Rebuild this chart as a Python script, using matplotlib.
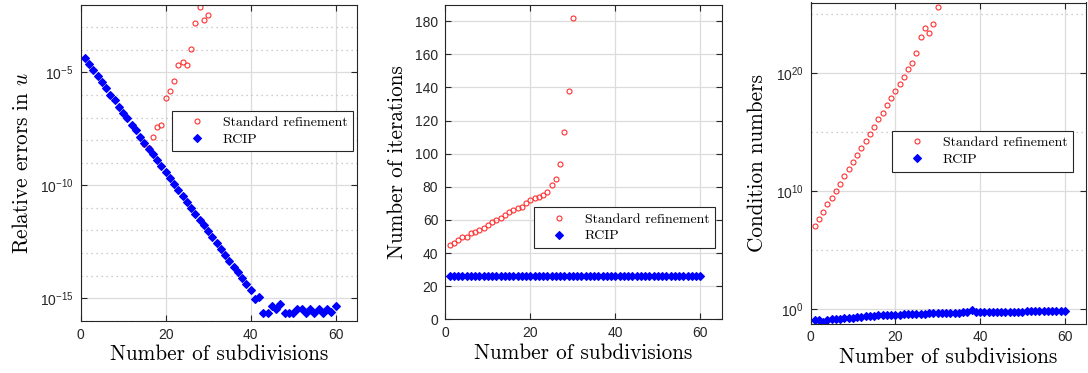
import numpy as np
import matplotlib
matplotlib.use('Agg')
import matplotlib.pyplot as plt
from matplotlib.ticker import FixedLocator, LogFormatterMathtext, NullFormatter

plt.rcParams['font.family'] = ['Liberation Sans', 'DejaVu Sans']
plt.rcParams['mathtext.fontset'] = 'cm'

# subdivisions
n_rcip = np.arange(1, 61)
n_std = np.arange(1, 31)

# relative errors in u (log10)
err_rcip_log = [-4.36, -4.61, -4.89, -5.18, -5.44, -5.71, -5.99, -6.24, -6.52, -6.79,
                -7.04, -7.31, -7.56, -7.84, -8.11, -8.39, -8.62, -8.89, -9.14, -9.42,
                -9.69, -9.95, -10.21, -10.46, -10.74, -10.99, -11.26, -11.52, -11.77, -12.04,
                -12.31, -12.56, -12.81, -13.09, -13.36, -13.61, -13.86, -14.13, -14.38, -14.66,
                -15.03, -14.94, -15.65, -15.65, -15.34, -15.50, -15.28, -15.65, -15.65, -15.65,
                -15.46, -15.46, -15.65, -15.46, -15.65, -15.49, -15.65, -15.46, -15.63, -15.34]
err_std_log = [-4.36, -4.61, -4.89, -5.18, -5.44, -5.71, -5.99, -6.24, -6.52, -6.79,
               -7.04, -7.31, -7.56, -7.84, -8.17, -8.35, -7.84, -7.40, -7.34, -6.14,
               -5.84, -5.38, -4.69, -4.56, -4.69, -3.95, -2.80, -2.09, -2.67, -2.45]

# number of iterations
it_std = [45, 46, 48, 50, 50, 52, 53, 54, 55, 57, 59, 60, 61, 63, 65, 66, 67, 68, 70, 72,
          73, 74, 75, 77, 81, 85, 94, 113, 138, 182]
it_rcip = [26] * 60

# condition numbers (log10)
cond_std_log = [7.02, 7.64, 8.24, 8.86, 9.43, 10.02, 10.61, 11.24, 11.86, 12.45,
                13.05, 13.67, 14.27, 14.86, 15.45, 16.08, 16.64, 17.27, 17.86, 18.48,
                19.08, 19.70, 20.32, 20.89, 21.74, 23.07, 23.86, 23.41, 24.20, 25.62]
cond_rcip_log = [-0.93, -0.99, -1.16, -0.96, -0.91, -0.88, -0.85, -0.82, -0.79, -0.76,
                 -0.74, -0.68, -0.62, -0.59, -0.59, -0.57, -0.57, -0.56, -0.54, -0.53,
                 -0.51, -0.48, -0.45, -0.45, -0.45, -0.43, -0.42, -0.40, -0.39, -0.37,
                 -0.36, -0.35, -0.34, -0.33, -0.32, -0.31, -0.31, -0.14, -0.31, -0.30,
                 -0.30, -0.29, -0.28, -0.28, -0.27, -0.26, -0.26, -0.25, -0.24, -0.24,
                 -0.23, -0.22, -0.22, -0.21, -0.21, -0.20, -0.19, -0.19, -0.18, -0.17]

AX_COL = '#262626'
GRID_COL = '#dcdcdc'
LBL_FONT = 'cmr10'

fig = plt.figure(figsize=(10.88, 3.73), dpi=100)
W, H = 1088, 373


def make_ax(l, r, t, b):
    return fig.add_axes([l / W, (H - b) / H, (r - l) / W, (b - t) / H])


def style(ax):
    for s in ax.spines.values():
        s.set_color(AX_COL)
        s.set_linewidth(0.8)
    ax.tick_params(which='major', direction='in', length=4, width=0.8,
                   top=True, right=True, colors=AX_COL, labelsize=10, pad=5)
    ax.tick_params(which='minor', length=0)
    ax.set_axisbelow(True)
    ax.grid(True, which='major', color=GRID_COL, linewidth=0.9)
    ax.set_xlim(0, 65)
    ax.set_xticks([0, 20, 40, 60])
    ax.set_xlabel('Number of subdivisions', fontfamily=LBL_FONT, fontsize=15.3, labelpad=2)


def plot_pair(ax, std_y, rcip_y, anchor):
    ax.plot(n_std, std_y, 'o', ls='none', ms=3.6, mfc='none', mec='#ff3030', mew=0.8,
            label='Standard refinement')
    ax.plot(n_rcip, rcip_y, 'D', ls='none', ms=3.8, mfc='#0000ff', mec='#0000ff', mew=0.8,
            label='RCIP')
    leg = ax.legend(loc='upper left', bbox_to_anchor=anchor, borderaxespad=0,
                    prop={'family': LBL_FONT, 'size': 10},
                    fancybox=False, framealpha=1, edgecolor=AX_COL, borderpad=0.4,
                    handletextpad=0.45, labelspacing=0.3, handlelength=2.8)
    leg.get_frame().set_linewidth(0.8)


def log_axis(ax, lo, hi, majors, minors):
    ax.set_yscale('log')
    ax.set_ylim(lo, hi)
    ax.yaxis.set_major_locator(FixedLocator(majors))
    ax.yaxis.set_major_formatter(LogFormatterMathtext())
    ax.yaxis.set_minor_locator(FixedLocator(minors))
    ax.yaxis.set_minor_formatter(NullFormatter())
    ax.grid(True, which='minor', axis='y', color='#bdbdbd', linewidth=0.9,
            linestyle=(0, (1, 3)))


# panel 1
ax1 = make_ax(80.5, 357, 4.7, 320.7)
style(ax1)
plot_pair(ax1, 10.0 ** np.array(err_std_log), 10.0 ** np.array(err_rcip_log),
          ((172 - 80.5) / 276.5, 1 - (110.7 - 4.7) / 316))
log_axis(ax1, 1e-16, 1e-2, [1e-15, 1e-10, 1e-5],
         [10.0 ** k for k in range(-16, -1) if k % 5 != 0])
ax1.set_ylabel('Relative errors in $u$', fontfamily=LBL_FONT, fontsize=15.3, labelpad=6)

# panel 2
ax2 = make_ax(445.3, 721.7, 4.7, 319.3)
style(ax2)
plot_pair(ax2, it_std, it_rcip, ((534.3 - 445.3) / 276.4, 1 - (207.3 - 4.7) / 314.6))
ax2.set_ylim(0, 190)
ax2.set_yticks(np.arange(0, 181, 20))
ax2.set_ylabel('Number of iterations', fontfamily=LBL_FONT, fontsize=15.3, labelpad=6)

# panel 3
ax3 = make_ax(810.5, 1086, 2.5, 323.5)
style(ax3)
plot_pair(ax3, 10.0 ** np.array(cond_std_log), 10.0 ** np.array(cond_rcip_log),
          ((892 - 810.5) / 275.5, 1 - (131 - 2.5) / 321))
log_axis(ax3, 10 ** -1.25, 1e26, [1e0, 1e10, 1e20], [1e5, 1e15, 1e25])
ax3.set_ylabel('Condition numbers', fontfamily=LBL_FONT, fontsize=15.3, labelpad=6)

fig.savefig('out.png', dpi=100)
